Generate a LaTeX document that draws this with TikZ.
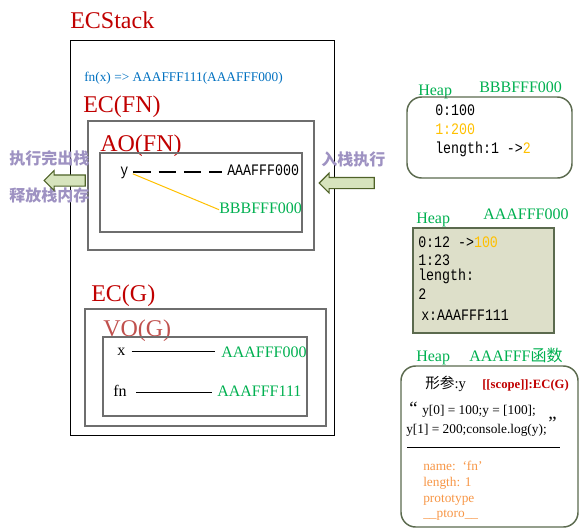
\documentclass[tikz,border=0pt]{standalone}
\usepackage{fontspec}
\setmainfont{Liberation Serif}
\setmonofont{Liberation Mono}
\newfontfamily\cjk{Noto Sans CJK SC}
\newfontfamily\simmono[FakeStretch=0.83]{Liberation Mono}
\usepackage{xcolor}
\usetikzlibrary{shapes.arrows}
\definecolor{ecRed}{HTML}{C00000}
\definecolor{voRed}{HTML}{C0504D}
\definecolor{fnBlue}{HTML}{0070C0}
\definecolor{heapGreen}{HTML}{00B050}
\definecolor{hiOrange}{HTML}{FFC000}
\definecolor{protoOrange}{HTML}{F79646}
\definecolor{cnPurple}{HTML}{9E92C2}
\definecolor{arrowFill}{HTML}{D7E4BD}
\definecolor{arrowLine}{HTML}{4F6228}
\definecolor{heapFill}{HTML}{DDDFC9}
\definecolor{heapLine}{HTML}{5B6A4E}
\definecolor{frameGrey}{HTML}{6E6E6E}

\begin{document}
\begin{tikzpicture}[
  x=0.75pt,y=-0.75pt,
  lbl/.style={anchor=base west,inner sep=0pt,text height=0.75em,text depth=0.25em},
  title/.style={lbl,font=\fontsize{18}{20}\selectfont,text=ecRed},
  addr/.style={lbl,font=\fontsize{12}{14}\selectfont,text=heapGreen},
  mono/.style={lbl,font=\simmono\fontsize{12}{14}\selectfont,text height=0.6em,text depth=0.15em},
  cn/.style={lbl,font=\cjk\bfseries\fontsize{12}{14}\selectfont,text=cnPurple},
  proto/.style={lbl,font=\fontsize{10}{12}\selectfont,text=protoOrange},
  frame/.style={draw=frameGrey,line width=1.5pt},
  heapbox/.style={draw=heapLine,line width=1.1pt,rounded corners=11pt},
  blockarrow/.style={single arrow,draw=arrowLine,fill=arrowFill,line width=0.8pt,
    shape border rotate=180,inner xsep=0pt,inner ysep=3.75pt,text height=0pt,text depth=0pt,
    single arrow head extend=3.2pt},
  link/.style={line width=0.8pt}
]
\useasboundingbox (0,0) rectangle (580,529);

% stack side
\node[title] (ecstack) at (70,28) {ECStack};
\draw[line width=0.75pt] (70,40) rectangle (334,435);
\node[lbl,font=\fontsize{10}{12}\selectfont,text=fnBlue] (call) at (84,81) {fn(x) => AAAFFF111(AAAFFF000)};

\node[title] (ecfn) at (83,112) {EC(FN)};
\draw[frame] (88,121) rectangle (314,250);
\node[title] (aofn) at (100,151) {AO(FN)};
\draw[frame] (100,153) rectangle (302,232);
\node[mono] (y) at (120,175) {y};
\node[mono] (a0) at (227,175) {AAAFFF000};
\node[addr] (b0) at (219,213) {BBBFFF000};
\draw[link,dash pattern=on 13pt off 6pt,shorten <=3.5pt,shorten >=3.5pt] (y.east) -- (y.east -| a0.west);
\draw[hiOrange,line width=0.75pt,shorten <=3.5pt] (y.east) -- (b0.west);

\node[title] (ecg) at (91,301) {EC(G)};
\draw[frame] (85,309) rectangle (326,426);
\node[title,text=voRed] (vog) at (103,336) {VO(G)};
\draw[frame] (103,337) rectangle (307,416);
\node[lbl,font=\fontsize{12}{14}\selectfont] (x) at (117,355) {x};
\node[addr] (ga0) at (221,357) {AAAFFF000};
\node[lbl,font=\fontsize{12}{14}\selectfont] (fn) at (113,396) {fn};
\node[addr] (ga1) at (217,396) {AAAFFF111};
\draw[link,shorten <=4.5pt,shorten >=4.5pt] (x.east) -- (x.east -| ga0.west);
\draw[link,shorten <=7pt,shorten >=3.5pt] (fn.east) -- (fn.east -| ga1.west);

% push and pop
\node[cn] (pop1) at (9,164) {执行完出栈};
\node[cn] (pop2) at (9,201) {释放栈内存};
\node[blockarrow,minimum height=30.75pt,minimum width=14pt] (poparrow) at (67.5,180.5) {};
\node[cn] (push) at (321,165) {入栈执行};
\node[blockarrow,minimum height=41.25pt,minimum width=13.5pt] (pusharrow) at (349.5,183) {};

% heap BBBFFF000
\node[addr] (heap1) at (418,95) {Heap};
\node[addr] (heap1addr) at (479,92) {BBBFFF000};
\draw[heapbox] (407,97) rectangle (572,178);
\node[mono] (h1a) at (435,115) {0:100};
\node[mono,text=hiOrange] (h1b) at (435,134) {1:200};
\node[mono] (h1c) at (435,153) {length:1 ->\textcolor{hiOrange}{2}};

% heap AAAFFF000
\node[addr] (heap2) at (416,223) {Heap};
\node[addr] (heap2addr) at (483,219) {AAAFFF000};
\draw[draw=heapLine,fill=heapFill,line width=1.1pt] (413,228) rectangle (554,333);
\node[mono] (h2a) at (418,247) {0:12 ->\textcolor{hiOrange}{100}};
\node[mono] (h2b) at (418,265) {1:23};
\node[mono] (h2c) at (418,280) {length:};
\node[mono] (h2d) at (418,299) {2};
\node[mono] (h2e) at (421,320) {x:AAAFFF111};

% heap function
\node[addr] (heap3) at (416,361) {Heap};
\node[addr] (heap3addr) at (469,361) {AAAFFF{\cjk 函数}};
\draw[heapbox] (401,366) rectangle (578,527);
\node[lbl,font=\fontsize{11}{13}\selectfont] (param) at (425,388) {{\cjk 形参}:y};
\node[lbl,font=\bfseries\fontsize{9.5}{11}\selectfont,text=ecRed] (scope) at (482,388) {[[scope]]:EC(G)};
\node[lbl,font=\fontsize{14}{14}\selectfont] (q1) at (409,414) {“};
\node[lbl,font=\fontsize{10}{12}\selectfont] (code1) at (422,414) {y[0] = 100;y = [100];};
\node[lbl,font=\fontsize{10}{12}\selectfont] (code2) at (406,433) {y[1] = 200;console.log(y);};
\node[lbl,font=\fontsize{14}{14}\selectfont] (q2) at (548,429) {”};
\coordinate (ruleL) at (407,447);
\coordinate (ruleR) at (560,447);
\draw[line width=0.75pt] (ruleL) -- (ruleR);
\node[proto] (pname) at (423,470) {name:\ \ ‘fn’};
\node[proto] (plen) at (423,486) {length: 1};
\node[proto] (pproto) at (423,502) {prototype};
\node[proto] (pptoro) at (423,517) {\_\_ptoro\_\_};
\end{tikzpicture}
\end{document}
